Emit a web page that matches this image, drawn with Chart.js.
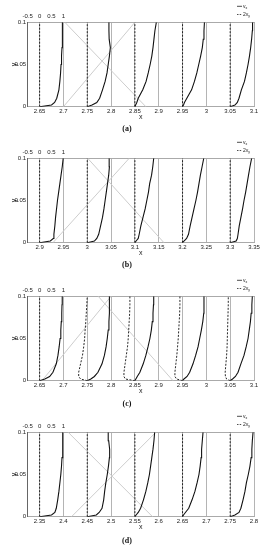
<!DOCTYPE html>
<html>
<head>
<meta charset="utf-8">
<script src="https://cdn.jsdelivr.net/npm/chart.js@4.4.1/dist/chart.umd.min.js"></script>
<style>
  html, body { margin: 0; padding: 0; background: #fff; }
  body { width: 264px; height: 550px; position: relative; overflow: hidden; }
  .panel { position: absolute; left: 0; width: 264px; }
</style>
</head>
<body>
<div class="panel" id="pa"><canvas id="ca"></canvas></div>
<div class="panel" id="pb"><canvas id="cb"></canvas></div>
<div class="panel" id="pc"><canvas id="cc"></canvas></div>
<div class="panel" id="pd"><canvas id="cd"></canvas></div>
<script>
// Heights at which every profile is sampled
const yLevels = [0, 0.002, 0.005, 0.01, 0.02, 0.03, 0.04, 0.05, 0.06, 0.07, 0.08, 0.09, 0.1];
const yEnds = [0, 0.1];
const yTicks = [0, 0.05, 0.1];
const velTicks = [-0.5, 0, 0.5, 1];
const velScale = 0.05; // one velocity unit spans 0.05 in x

// Panel (a)
const xRangeA = [2.625, 3.1];
const xTicksA = [2.65, 2.7, 2.75, 2.8, 2.85, 2.9, 2.95, 3, 3.05, 3.1];
const baseA = [2.65, 2.75, 2.85, 2.95, 3.05];
const vxA = [
  [0, 0.50, 0.63, 0.72, 0.81, 0.85, 0.88, 0.90, 0.92, 0.94, 0.95, 0.96, 0.96],
  [0, 0.20, 0.40, 0.52, 0.64, 0.75, 0.83, 0.88, 0.93, 0.97, 0.92, 0.91, 0.91],
  [0, 0.03, 0.08, 0.14, 0.33, 0.47, 0.56, 0.64, 0.71, 0.76, 0.80, 0.84, 0.90],
  [0, 0.04, 0.08, 0.18, 0.38, 0.50, 0.60, 0.68, 0.76, 0.83, 0.87, 0.90, 0.92],
  [0, 0.20, 0.30, 0.37, 0.47, 0.60, 0.68, 0.75, 0.81, 0.86, 0.90, 0.93, 0.94]
];
const vyA = [[0, 0], [0, 0], [0, 0], [0, 0], [0, 0]];
const diagA = [[2.70, 0, 2.85, 0.1], [2.703, 0.1, 2.873, 0]];

// Panel (b)
const xRangeB = [2.875, 3.35];
const xTicksB = [2.9, 2.95, 3, 3.05, 3.1, 3.15, 3.2, 3.25, 3.3, 3.35];
const baseB = [2.9, 3.0, 3.1, 3.2, 3.3];
const vxB = [
  [0, 0.45, 0.57, 0.60, 0.64, 0.67, 0.71, 0.75, 0.80, 0.85, 0.90, 0.95, 0.99],
  [0, 0.30, 0.40, 0.48, 0.56, 0.64, 0.70, 0.75, 0.80, 0.85, 0.90, 0.93, 0.92],
  [0, 0.05, 0.14, 0.18, 0.25, 0.34, 0.43, 0.50, 0.57, 0.62, 0.70, 0.75, 0.79],
  [0, 0.06, 0.17, 0.25, 0.32, 0.40, 0.48, 0.56, 0.63, 0.69, 0.75, 0.82, 0.89],
  [0, 0.25, 0.30, 0.33, 0.38, 0.45, 0.52, 0.58, 0.65, 0.71, 0.77, 0.83, 0.90]
];
const vyB = [[0, 0], [0, 0], [0, 0], [0, 0], [0, 0]];
const diagB = [[2.928, 0, 3.088, 0.1], [3.001, 0.1, 3.161, 0]];

// Panel (c)
const xRangeC = [2.625, 3.1];
const xTicksC = [2.65, 2.7, 2.75, 2.8, 2.85, 2.9, 2.95, 3, 3.05, 3.1];
const baseC = [2.65, 2.75, 2.85, 2.95, 3.05];
const vxC = [
  [0, 0.22, 0.42, 0.56, 0.70, 0.77, 0.82, 0.86, 0.89, 0.91, 0.93, 0.94, 0.95],
  [0, 0.15, 0.30, 0.45, 0.62, 0.72, 0.79, 0.84, 0.88, 0.91, 0.93, 0.93, 0.93],
  [0, 0.04, 0.10, 0.21, 0.35, 0.46, 0.55, 0.63, 0.69, 0.73, 0.76, 0.78, 0.79],
  [0, 0.06, 0.19, 0.30, 0.44, 0.55, 0.65, 0.72, 0.79, 0.85, 0.89, 0.90, 0.90],
  [0, 0.10, 0.22, 0.33, 0.45, 0.58, 0.67, 0.75, 0.80, 0.85, 0.88, 0.91, 0.93]
];
const vyC = [
  [0, 0],
  [0, -0.28, -0.36, -0.36, -0.28, -0.20, -0.15, -0.11, -0.09, -0.06, -0.04, -0.02, 0],
  [0, -0.40, -0.46, -0.46, -0.41, -0.36, -0.31, -0.28, -0.26, -0.24, -0.22, -0.21, -0.21],
  [0, -0.25, -0.32, -0.32, -0.28, -0.24, -0.21, -0.18, -0.16, -0.14, -0.12, -0.11, -0.11],
  [0, -0.15, -0.20, -0.21, -0.18, -0.15, -0.13, -0.12, -0.11, -0.10, -0.09, -0.08, -0.08]
];
const diagC = [[2.655, 0, 2.80, 0.1], [2.773, 0.1, 2.93, 0]];

// Panel (d)
const xRangeD = [2.325, 2.8];
const xTicksD = [2.35, 2.4, 2.45, 2.5, 2.55, 2.6, 2.65, 2.7, 2.75, 2.8];
const baseD = [2.35, 2.45, 2.55, 2.65, 2.75];
const vxD = [
  [0, 0.50, 0.64, 0.70, 0.76, 0.81, 0.85, 0.89, 0.92, 0.94, 0.96, 0.97, 0.98],
  [0, 0.38, 0.50, 0.62, 0.69, 0.73, 0.78, 0.84, 0.89, 0.93, 0.94, 0.90, 0.88],
  [0, 0.05, 0.14, 0.24, 0.36, 0.46, 0.54, 0.61, 0.66, 0.71, 0.76, 0.80, 0.83],
  [0, 0.04, 0.12, 0.26, 0.40, 0.52, 0.61, 0.69, 0.74, 0.78, 0.80, 0.83, 0.86],
  [0, 0.20, 0.37, 0.45, 0.54, 0.62, 0.68, 0.76, 0.83, 0.88, 0.91, 0.93, 0.96]
];
const vyD = [[0, 0], [0, 0], [0, 0], [0, 0], [0, 0]];
const diagD = [[2.41, 0.1, 2.587, 0], [2.417, 0, 2.594, 0.1]];

const panels = [
  { el: 'pa', canvas: 'ca', label: '(a)', range: xRangeA, ticks: xTicksA, base: baseA, vx: vxA, vy: vyA, diag: diagA, top: 0, height: 136, capPad: 2 },
  { el: 'pb', canvas: 'cb', label: '(b)', range: xRangeB, ticks: xTicksB, base: baseB, vx: vxB, vy: vyB, diag: diagB, top: 136, height: 138, capPad: 2.5 },
  { el: 'pc', canvas: 'cc', label: '(c)', range: xRangeC, ticks: xTicksC, base: baseC, vx: vxC, vy: vyC, diag: diagC, top: 274, height: 136, capPad: 3.5 },
  { el: 'pd', canvas: 'cd', label: '(d)', range: xRangeD, ticks: xTicksD, base: baseD, vx: vxD, vy: vyD, diag: diagD, top: 410, height: 140, capPad: 4.2 }
];

const sans = 'Liberation Sans, Arial, sans-serif';
const fmt = v => String(Math.round(v * 1000) / 1000);

// Profile values are offsets from their station, scaled to x units
function profilePoints(base, v) {
  const ys = v.length === yLevels.length ? yLevels : yEnds;
  return v.map((val, i) => ({ x: base + val * velScale, y: ys[i] }));
}

// Small stacked legend above the top-right corner of the axes
const profileLegend = {
  id: 'profileLegend',
  afterDraw(chart) {
    const { ctx, chartArea } = chart;
    const rows = [
      { dash: [], main: 'v', sub: 'x', dy: -16 },
      { dash: [1.5, 1.2], main: '2v', sub: 'y', dy: -7.8 }
    ];
    ctx.save();
    rows.forEach(r => {
      const y = chartArea.top + r.dy;
      const x0 = chartArea.right - 17;
      ctx.strokeStyle = '#222';
      ctx.lineWidth = 0.8;
      ctx.setLineDash(r.dash);
      ctx.beginPath();
      ctx.moveTo(x0, y);
      ctx.lineTo(x0 + 5, y);
      ctx.stroke();
      ctx.setLineDash([]);
      ctx.fillStyle = '#222';
      ctx.textBaseline = 'middle';
      ctx.font = '5px ' + sans;
      ctx.fillText(r.main, x0 + 6, y);
      const w = ctx.measureText(r.main).width;
      ctx.font = '3.5px ' + sans;
      ctx.fillText(r.sub, x0 + 6 + w, y + 1.5);
    });
    ctx.restore();
  }
};

panels.forEach(p => {
  const box = document.getElementById(p.el);
  box.style.top = p.top + 'px';
  box.style.height = p.height + 'px';

  const datasets = [];
  p.vx.forEach((v, i) => datasets.push({
    label: 'v_x', data: profilePoints(p.base[i], v),
    borderColor: '#111', borderWidth: 1.1, order: 0
  }));
  p.vy.forEach((v, i) => datasets.push({
    label: '2v_y', data: profilePoints(p.base[i], v),
    borderColor: '#111', borderWidth: 0.9, borderDash: [2, 1.5], order: 1
  }));
  p.diag.forEach(d => datasets.push({
    label: 'front', data: [{ x: d[0], y: d[1] }, { x: d[2], y: d[3] }],
    borderColor: '#cdcdcd', borderWidth: 1, order: 2
  }));
  datasets.forEach(d => { d.showLine = true; d.pointRadius = 0; d.fill = false; d.tension = 0; });

  const titleBox = p.capPad + 1 + 9.6;
  const padBottom = Math.max(0, p.height - 22.3 - 15 - 84.4 - titleBox);

  new Chart(document.getElementById(p.canvas), {
    type: 'scatter',
    data: { datasets },
    plugins: [profileLegend],
    options: {
      responsive: true,
      maintainAspectRatio: false,
      animation: false,
      layout: { padding: { left: 0, right: 10, top: 0, bottom: padBottom } },
      plugins: {
        legend: { display: false },
        tooltip: { enabled: false },
        title: {
          display: true, position: 'bottom', text: p.label, color: '#111',
          font: { family: 'Liberation Serif, Times New Roman, serif', size: 8, weight: 'bold' },
          padding: { top: p.capPad, bottom: 1 }
        }
      },
      scales: {
        x: {
          type: 'linear', position: 'bottom', min: p.range[0], max: p.range[1],
          afterBuildTicks: s => { s.ticks = p.ticks.map(v => ({ value: v })); },
          afterFit: s => { s.height = 15; },
          ticks: { font: { family: sans, size: 6 }, color: '#222', padding: 1, maxRotation: 0, autoSkip: false, callback: fmt },
          grid: { color: '#b4b4b4', lineWidth: 1, drawTicks: false },
          border: { color: '#aaa' },
          title: { display: true, text: 'x', color: '#222', font: { family: sans, size: 7 }, padding: { top: 0, bottom: 0.5 } }
        },
        x2: {
          type: 'linear', position: 'top', min: -0.5, max: -0.5 + (p.range[1] - p.range[0]) / velScale,
          afterBuildTicks: s => { s.ticks = velTicks.map(v => ({ value: v })); },
          afterFit: s => { s.height = 22.3; },
          ticks: { font: { family: sans, size: 6 }, color: '#222', padding: 2, maxRotation: 0, autoSkip: false, callback: fmt },
          grid: { display: false, drawTicks: false },
          border: { color: '#aaa' }
        },
        y: {
          type: 'linear', min: 0, max: 0.1,
          afterBuildTicks: s => { s.ticks = yTicks.map(v => ({ value: v })); },
          afterFit: s => { s.width = 27.7; },
          ticks: { font: { family: sans, size: 6 }, color: '#222', padding: 1.5, callback: fmt },
          grid: { display: false, drawTicks: false },
          border: { color: '#666' },
          title: { display: true, text: 'y', color: '#222', font: { family: sans, size: 7 }, padding: { top: 9.5, bottom: 0 } }
        }
      }
    }
  });
});
</script>
</body>
</html>
